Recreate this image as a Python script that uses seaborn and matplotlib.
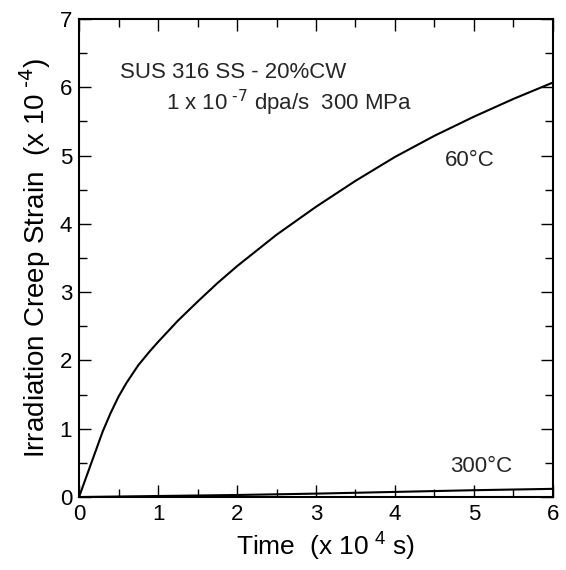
import pandas as pd
import matplotlib
matplotlib.use("Agg")
import matplotlib.pyplot as plt
from matplotlib.ticker import MultipleLocator
import seaborn as sns

# Values (strain in units of 1e-4, time in 1e4 s)
time_60 = [0, 0.05, 0.1, 0.15, 0.2, 0.3, 0.4, 0.5, 0.6, 0.75, 0.9, 1.0, 1.25, 1.5,
           1.75, 2.0, 2.5, 3.0, 3.5, 4.0, 4.5, 5.0, 5.5, 6.0]
strain_60 = [0, 0.16, 0.32, 0.48, 0.64, 0.96, 1.23, 1.47, 1.67, 1.93, 2.14, 2.27, 2.58, 2.86,
             3.13, 3.38, 3.84, 4.25, 4.63, 4.98, 5.29, 5.57, 5.83, 6.07]

time_300 = [0, 1, 2, 3, 4, 5, 6]
strain_300 = [0, 0.015, 0.03, 0.05, 0.075, 0.10, 0.12]

df = pd.concat([
    pd.DataFrame({"Time": time_60, "Strain": strain_60, "Temp": "60°C"}),
    pd.DataFrame({"Time": time_300, "Strain": strain_300, "Temp": "300°C"}),
])

sns.set_theme(style="ticks")
plt.rcParams["font.family"] = ["Liberation Sans", "DejaVu Sans"]
plt.rcParams["mathtext.default"] = "regular"

fig = plt.figure(figsize=(5.66, 5.70), dpi=100)
ax = fig.add_axes([0.1396, 0.128, 0.8374, 0.8387])

sns.lineplot(
    data=df, x="Time", y="Strain", hue="Temp",
    palette=["black", "black"], lw=1.5, legend=False, ax=ax, sort=True
)

ax.set_xlim(0, 6)
ax.set_ylim(0, 7)
ax.xaxis.set_major_locator(MultipleLocator(1))
ax.xaxis.set_minor_locator(MultipleLocator(0.5))
ax.yaxis.set_major_locator(MultipleLocator(1))
ax.yaxis.set_minor_locator(MultipleLocator(0.5))
ax.tick_params(which="both", direction="in", top=True, right=True,
               width=1.0, labelsize=16, color="black", labelcolor="black")
ax.tick_params(which="major", length=8.5, pad=5)
ax.tick_params(which="minor", length=6)
for s in ax.spines.values():
    s.set_linewidth(1.5)
    s.set_color("black")

ax.set_xlabel("Time  (x 10$^{\\ 4}$ s)", fontsize=19, color="black", labelpad=4)
ax.xaxis.label.set_x(0.52)
ax.set_ylabel("Irradiation Creep Strain  (x 10$^{\\ \\text{-4}}$)", fontsize=20,
              color="black", labelpad=5)

ax.text(0.52, 6.22, "SUS 316 SS - 20%CW", fontsize=16, va="center")
ax.text(1.1, 5.77, "1 x 10$^{\\ \\text{-7}}$ dpa/s  300 MPa", fontsize=16, va="center")
ax.text(4.63, 4.93, "60°C", fontsize=16, va="center")
ax.text(4.7, 0.45, "300°C", fontsize=16, va="center")

fig.savefig("out.png", dpi=100)
